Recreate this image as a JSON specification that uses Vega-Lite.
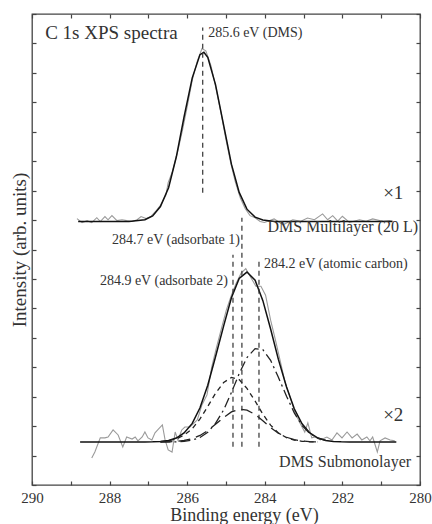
{
  "$schema": "https://vega.github.io/schema/vega-lite/v6.json",
  "width": 388,
  "height": 471,
  "autosize": {"type": "none"},
  "padding": {"left": 32, "top": 14, "right": 12, "bottom": 39},
  "background": "white",
  "config": {
    "view": {"stroke": "#444", "strokeWidth": 1.3},
    "axis": {"domain": false, "grid": false, "ticks": true, "tickColor": "#444", "tickSize": -4, "tickWidth": 1.2,
      "labelFont": "Liberation Serif, DejaVu Serif, serif", "labelFontSize": 15, "labelColor": "#333", "labelFlush": false,
      "titleFont": "Liberation Serif, DejaVu Serif, serif", "titleFontSize": 19, "titleFontWeight": "normal", "titleColor": "#333"},
    "text": {"font": "Liberation Serif, DejaVu Serif, serif", "color": "#333"}
  },
  "datasets": {
    "topNoise": [
      {"E":288.84,"I":9.05},{"E":288.71,"I":8.91},{"E":288.58,"I":8.98},{"E":288.46,"I":8.91},{"E":288.33,"I":9.08},
      {"E":288.24,"I":8.95},{"E":288.12,"I":9.12},{"E":288.04,"I":9.01},{"E":287.94,"I":9.15},{"E":287.81,"I":8.98},
      {"E":287.68,"I":9.01},{"E":287.56,"I":8.98},{"E":287.42,"I":8.95},{"E":287.29,"I":9.01},{"E":287.19,"I":9.12},
      {"E":287.06,"I":9.05},{"E":286.94,"I":9.12},{"E":286.81,"I":9.30},{"E":286.69,"I":9.50},{"E":286.55,"I":9.85},
      {"E":286.49,"I":10.27},{"E":286.38,"I":10.65},{"E":286.25,"I":11.30},{"E":286.13,"I":12.0},{"E":286.00,"I":12.85},
      {"E":285.87,"I":13.75},{"E":285.74,"I":14.40},{"E":285.62,"I":14.83},{"E":285.52,"I":14.75},{"E":285.39,"I":14.25},
      {"E":285.27,"I":13.55},{"E":285.13,"I":12.65},{"E":285.01,"I":11.8},{"E":284.88,"I":10.95},{"E":284.76,"I":10.3},
      {"E":284.63,"I":9.75},{"E":284.51,"I":9.40},{"E":284.38,"I":9.15},{"E":284.25,"I":9.08},{"E":284.12,"I":8.95},
      {"E":284.01,"I":8.92},{"E":283.76,"I":9.04},{"E":283.53,"I":8.84},{"E":283.28,"I":9.01},{"E":283.07,"I":8.96},
      {"E":282.90,"I":9.07},{"E":282.72,"I":9.01},{"E":282.51,"I":9.21},{"E":282.38,"I":9.01},{"E":282.25,"I":9.15},
      {"E":282.12,"I":8.96},{"E":282.00,"I":9.13},{"E":281.82,"I":8.92},{"E":281.56,"I":9.01},{"E":281.39,"I":8.96},
      {"E":281.22,"I":9.04},{"E":280.96,"I":8.96},{"E":280.79,"I":8.98},{"E":280.71,"I":8.96}
    ],
    "topFit": [
      {"E":288.81,"I":8.95},{"E":287.50,"I":8.95},{"E":287.09,"I":9.01},{"E":286.89,"I":9.14},{"E":286.69,"I":9.46},
      {"E":286.48,"I":10.10},{"E":286.28,"I":11.15},{"E":286.08,"I":12.51},{"E":285.87,"I":13.83},{"E":285.67,"I":14.62},
      {"E":285.57,"I":14.70},{"E":285.47,"I":14.53},{"E":285.27,"I":13.60},{"E":285.06,"I":12.22},{"E":284.86,"I":10.90},
      {"E":284.66,"I":9.94},{"E":284.46,"I":9.37},{"E":284.25,"I":9.10},{"E":284.05,"I":9.00},{"E":283.75,"I":8.95},
      {"E":280.71,"I":8.95}
    ],
    "botNoise": [
      {"E":288.46,"I":0.92},{"E":288.38,"I":1.12},{"E":288.24,"I":1.60},{"E":288.12,"I":1.60},{"E":288.04,"I":1.63},
      {"E":287.91,"I":1.87},{"E":287.78,"I":1.70},{"E":287.66,"I":1.29},{"E":287.56,"I":1.63},{"E":287.42,"I":1.56},
      {"E":287.34,"I":1.63},{"E":287.27,"I":1.50},{"E":287.16,"I":1.63},{"E":287.09,"I":1.80},{"E":287.01,"I":1.60},
      {"E":286.91,"I":1.53},{"E":286.83,"I":1.77},{"E":286.76,"I":1.87},{"E":286.64,"I":2.04},{"E":286.57,"I":1.53},
      {"E":286.49,"I":1.19},{"E":286.39,"I":1.12},{"E":286.31,"I":1.80},{"E":286.24,"I":1.53},{"E":286.14,"I":1.87},
      {"E":286.06,"I":1.97},{"E":285.93,"I":1.97},{"E":285.74,"I":2.21},{"E":285.62,"I":2.72},{"E":285.49,"I":3.06},
      {"E":285.37,"I":4.0},{"E":285.24,"I":4.7},{"E":285.12,"I":5.3},{"E":284.99,"I":5.95},{"E":284.86,"I":6.45},
      {"E":284.74,"I":6.85},{"E":284.61,"I":7.2},{"E":284.49,"I":7.35},{"E":284.36,"I":7.05},{"E":284.23,"I":6.75},
      {"E":284.10,"I":6.75},{"E":283.98,"I":6.45},{"E":283.85,"I":5.6},{"E":283.73,"I":4.95},{"E":283.60,"I":4.2},
      {"E":283.48,"I":3.5},{"E":283.34,"I":2.95},{"E":283.22,"I":2.45},{"E":283.09,"I":2.1},{"E":283.04,"I":1.97},
      {"E":282.97,"I":1.80},{"E":282.89,"I":2.11},{"E":282.79,"I":1.60},{"E":282.70,"I":1.63},{"E":282.57,"I":1.53},
      {"E":282.40,"I":1.63},{"E":282.27,"I":1.53},{"E":282.14,"I":1.77},{"E":282.01,"I":1.60},{"E":281.88,"I":1.80},
      {"E":281.75,"I":1.60},{"E":281.62,"I":1.73},{"E":281.50,"I":1.53},{"E":281.37,"I":1.63},{"E":281.29,"I":1.50},
      {"E":281.22,"I":1.63},{"E":281.10,"I":1.12},{"E":281.03,"I":1.50},{"E":280.90,"I":1.60},{"E":280.77,"I":1.53},
      {"E":280.65,"I":1.50}
    ],
    "botFit": [
      {"E":288.76,"I":1.46},{"E":287.60,"I":1.46},{"E":287.09,"I":1.462},{"E":286.89,"I":1.466},{"E":286.69,"I":1.479},
      {"E":286.48,"I":1.513},{"E":286.28,"I":1.595},{"E":286.08,"I":1.769},{"E":285.87,"I":2.091},{"E":285.67,"I":2.622},
      {"E":285.47,"I":3.388},{"E":285.27,"I":4.355},{"E":285.06,"I":5.407},{"E":284.86,"I":6.361},{"E":284.66,"I":7.019},
      {"E":284.46,"I":7.234},{"E":284.25,"I":6.960},{"E":284.05,"I":6.263},{"E":283.85,"I":5.300},{"E":283.65,"I":4.266},
      {"E":283.44,"I":3.328},{"E":283.24,"I":2.589},{"E":283.04,"I":2.078},{"E":282.84,"I":1.766},{"E":282.63,"I":1.595},
      {"E":282.43,"I":1.515},{"E":282.23,"I":1.479},{"E":282.03,"I":1.466},{"E":281.82,"I":1.462},{"E":280.61,"I":1.46}
    ],
    "compA2": [
      {"E":286.69,"I":1.476},{"E":286.48,"I":1.503},{"E":286.28,"I":1.566},{"E":286.08,"I":1.693},{"E":285.87,"I":1.913},
      {"E":285.67,"I":2.245},{"E":285.47,"I":2.669},{"E":285.27,"I":3.118},{"E":285.06,"I":3.482},{"E":284.86,"I":3.655},
      {"E":284.66,"I":3.579},{"E":284.46,"I":3.280},{"E":284.25,"I":2.852},{"E":284.05,"I":2.406},{"E":283.85,"I":2.032},
      {"E":283.65,"I":1.768},{"E":283.44,"I":1.608},{"E":283.24,"I":1.523},{"E":283.04,"I":1.484},{"E":282.84,"I":1.468},
      {"E":282.63,"I":1.462}
    ],
    "compA1": [
      {"E":286.69,"I":1.462},{"E":286.48,"I":1.468},{"E":286.28,"I":1.481},{"E":286.08,"I":1.512},{"E":285.87,"I":1.574},
      {"E":285.67,"I":1.684},{"E":285.47,"I":1.850},{"E":285.27,"I":2.064},{"E":285.06,"I":2.293},{"E":284.86,"I":2.482},
      {"E":284.66,"I":2.576},{"E":284.46,"I":2.544},{"E":284.25,"I":2.396},{"E":284.05,"I":2.180},{"E":283.85,"I":1.952},
      {"E":283.65,"I":1.760},{"E":283.44,"I":1.622},{"E":283.24,"I":1.538},{"E":283.04,"I":1.493},{"E":282.84,"I":1.473},
      {"E":282.63,"I":1.464}
    ],
    "compC": [
      {"E":286.69,"I":1.461},{"E":286.48,"I":1.462},{"E":286.28,"I":1.468},{"E":286.08,"I":1.484},{"E":285.87,"I":1.524},
      {"E":285.67,"I":1.613},{"E":285.47,"I":1.789},{"E":285.27,"I":2.093},{"E":285.06,"I":2.552},{"E":284.86,"I":3.144},
      {"E":284.66,"I":3.784},{"E":284.46,"I":4.330},{"E":284.25,"I":4.632},{"E":284.05,"I":4.597},{"E":283.85,"I":4.236},
      {"E":283.65,"I":3.658},{"E":283.44,"I":3.018},{"E":283.24,"I":2.448},{"E":283.04,"I":2.021},{"E":282.84,"I":1.745},
      {"E":282.63,"I":1.589},{"E":282.43,"I":1.513}
    ],
    "vlines": [
      {"E":285.6,"I1":9.93,"I2":15.54},
      {"E":284.59,"I1":1.3,"I2":9.08},
      {"E":284.82,"I1":1.3,"I2":7.82},
      {"E":284.15,"I1":1.3,"I2":7.58}
    ],
    "title19": [{"E":289.66,"I":15.37,"t":"C 1s XPS spectra"}],
    "ann14L": [
      {"E":285.46,"I":15.37,"t":"285.6 eV (DMS)"},
      {"E":284.02,"I":7.5,"t":"284.2 eV (atomic carbon)"}
    ],
    "ann14R": [
      {"E":284.64,"I":8.33,"t":"284.7 eV (adsorbate 1)"},
      {"E":284.95,"I":6.92,"t":"284.9 eV (adsorbate 2)"}
    ],
    "names16R": [
      {"E":280.05,"I":8.78,"t":"DMS Multilayer (20 L)"},
      {"E":280.23,"I":0.78,"t":"DMS Submonolayer"}
    ],
    "mult": [
      {"E":280.95,"I":9.93,"t":"×1"},
      {"E":280.95,"I":2.38,"t":"×2"}
    ]
  },
  "layer": [
    {
      "data": {"name": "topNoise"},
      "mark": {"type": "line", "color": "#9a9a9a", "strokeWidth": 1.1},
      "encoding": {
        "x": {"field": "E", "type": "quantitative", "scale": {"domain": [280, 290], "reverse": true, "nice": false, "zero": false},
          "axis": {"orient": "bottom", "values": [280,281,282,283,284,285,286,287,288,289,290], "labelExpr": "datum.value % 2 === 0 ? datum.label : ''",
            "labelPadding": 9, "title": "Binding energy (eV)", "titleFontSize": 18, "titleX": 212, "titleY": 35.5, "titleBaseline": "alphabetic", "titleAlign": "center"}},
        "y": {"field": "I", "type": "quantitative", "scale": {"domain": [0, 16], "nice": false, "zero": false},
          "axis": {"orient": "left", "values": [0,1,2,3,4,5,6,7,8,9,10,11,12,13,14,15,16], "labels": false, "title": "Intensity (arb. units)", "titlePadding": 2}}
      }
    },
    {
      "data": {"name": "topFit"},
      "mark": {"type": "line", "color": "#111", "strokeWidth": 1.5},
      "encoding": {
        "x": {"field": "E", "type": "quantitative", "scale": {"domain": [280, 290], "reverse": true, "nice": false, "zero": false},
          "axis": {"orient": "top", "values": [280,281,282,283,284,285,286,287,288,289,290], "labels": false, "title": null}},
        "y": {"field": "I", "type": "quantitative", "scale": {"domain": [0, 16], "nice": false, "zero": false},
          "axis": {"orient": "right", "values": [0,1,2,3,4,5,6,7,8,9,10,11,12,13,14,15,16], "labels": false, "title": null}}
      }
    },
    {
      "data": {"name": "botNoise"},
      "mark": {"type": "line", "color": "#9a9a9a", "strokeWidth": 1.1},
      "encoding": {"x": {"field": "E", "type": "quantitative", "axis": null}, "y": {"field": "I", "type": "quantitative", "axis": null}}
    },
    {
      "data": {"name": "botFit"},
      "mark": {"type": "line", "color": "#111", "strokeWidth": 1.5},
      "encoding": {"x": {"field": "E", "type": "quantitative", "axis": null}, "y": {"field": "I", "type": "quantitative", "axis": null}}
    },
    {
      "data": {"name": "compA2"},
      "mark": {"type": "line", "color": "#222", "strokeWidth": 1.3, "strokeDash": [5, 4]},
      "encoding": {"x": {"field": "E", "type": "quantitative", "axis": null}, "y": {"field": "I", "type": "quantitative", "axis": null}}
    },
    {
      "data": {"name": "compA1"},
      "mark": {"type": "line", "color": "#222", "strokeWidth": 1.3, "strokeDash": [12, 6]},
      "encoding": {"x": {"field": "E", "type": "quantitative", "axis": null}, "y": {"field": "I", "type": "quantitative", "axis": null}}
    },
    {
      "data": {"name": "compC"},
      "mark": {"type": "line", "color": "#222", "strokeWidth": 1.3, "strokeDash": [10, 4, 2, 4]},
      "encoding": {"x": {"field": "E", "type": "quantitative", "axis": null}, "y": {"field": "I", "type": "quantitative", "axis": null}}
    },
    {
      "data": {"name": "vlines"},
      "mark": {"type": "rule", "color": "#333", "strokeWidth": 1.2, "strokeDash": [5, 4]},
      "encoding": {"x": {"field": "E", "type": "quantitative", "axis": null}, "y": {"field": "I1", "type": "quantitative", "axis": null}, "y2": {"field": "I2"}}
    },
    {
      "data": {"name": "title19"},
      "mark": {"type": "text", "fontSize": 19, "align": "left", "baseline": "middle"},
      "encoding": {"x": {"field": "E", "type": "quantitative", "axis": null}, "y": {"field": "I", "type": "quantitative", "axis": null}, "text": {"field": "t"}}
    },
    {
      "data": {"name": "ann14L"},
      "mark": {"type": "text", "fontSize": 14, "align": "left", "baseline": "middle"},
      "encoding": {"x": {"field": "E", "type": "quantitative", "axis": null}, "y": {"field": "I", "type": "quantitative", "axis": null}, "text": {"field": "t"}}
    },
    {
      "data": {"name": "ann14R"},
      "mark": {"type": "text", "fontSize": 14, "align": "right", "baseline": "middle"},
      "encoding": {"x": {"field": "E", "type": "quantitative", "axis": null}, "y": {"field": "I", "type": "quantitative", "axis": null}, "text": {"field": "t"}}
    },
    {
      "data": {"name": "names16R"},
      "mark": {"type": "text", "fontSize": 16, "align": "right", "baseline": "middle"},
      "encoding": {"x": {"field": "E", "type": "quantitative", "axis": null}, "y": {"field": "I", "type": "quantitative", "axis": null}, "text": {"field": "t"}}
    },
    {
      "data": {"name": "mult"},
      "mark": {"type": "text", "fontSize": 19, "align": "left", "baseline": "middle"},
      "encoding": {"x": {"field": "E", "type": "quantitative", "axis": null}, "y": {"field": "I", "type": "quantitative", "axis": null}, "text": {"field": "t"}}
    }
  ],
  "resolve": {"axis": {"x": "independent", "y": "independent"}}
}
